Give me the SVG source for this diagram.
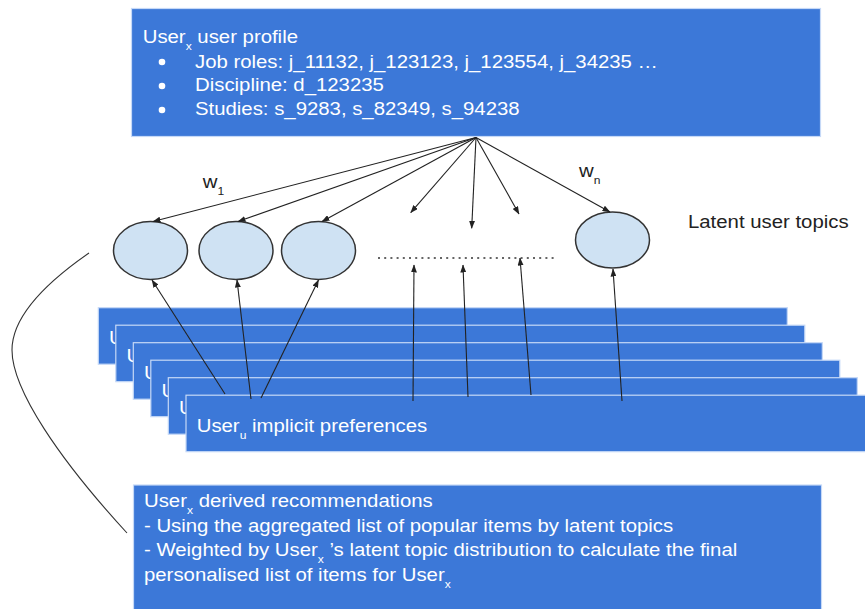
<svg xmlns="http://www.w3.org/2000/svg" width="865" height="609" viewBox="0 0 865 609">
  <style>
    .box { fill: #3c78d8; stroke: #c6d9f7; stroke-width: 1.2; }
    .topic { fill: #cfe2f3; stroke: #333333; stroke-width: 1.5; }
    .wt { font-family: "Liberation Sans", Arial, sans-serif; font-size: 18.5px; fill: #ffffff; }
    .bt { font-family: "Liberation Sans", Arial, sans-serif; font-size: 18.5px; fill: #222222; }
    .sub { font-size: 11px; }
    .edge { fill: none; stroke: #222222; stroke-width: 1.1; marker-end: url(#head); }
    .dots { fill: none; stroke: #333333; stroke-width: 1.6; stroke-dasharray: 2 4.2; }
    .brace { fill: none; stroke: #333333; stroke-width: 1.1; }
  </style>
  <defs>
    <marker id="head" markerUnits="userSpaceOnUse" markerWidth="8" markerHeight="6" refX="7.5" refY="3" orient="auto">
      <path d="M0,0 L8,3 L0,6 z" fill="#222222"/>
    </marker>
    <!-- visible strips of the cards behind the front card -->
    <clipPath id="strip1"><rect x="98" y="307" width="17.8" height="58"/></clipPath>
    <clipPath id="strip2"><rect x="115.5" y="325" width="17.8" height="58"/></clipPath>
    <clipPath id="strip3"><rect x="133" y="342" width="17.8" height="58"/></clipPath>
    <clipPath id="strip4"><rect x="150.5" y="360" width="17.8" height="58"/></clipPath>
    <clipPath id="strip5"><rect x="168" y="377" width="18" height="58"/></clipPath>
  </defs>

  <rect width="865" height="609" fill="#ffffff"/>

  <!-- profile box -->
  <g id="profile">
    <rect class="box" x="131.5" y="8.5" width="689" height="128"/>
    <text class="wt" transform="translate(142.7,43.3) scale(1.1,1)"><tspan>User</tspan><tspan class="sub" dy="7">x</tspan><tspan dy="-7"> user profile</tspan></text>
    <circle cx="162" cy="62" r="3.3" fill="#ffffff"/>
    <circle cx="162" cy="86" r="3.3" fill="#ffffff"/>
    <circle cx="162" cy="110" r="3.3" fill="#ffffff"/>
    <text class="wt" transform="translate(195,67.5) scale(1.1,1)">Job roles: j_11132, j_123123, j_123554, j_34235 …</text>
    <text class="wt" transform="translate(195,91.3) scale(1.1,1)">Discipline: d_123235</text>
    <text class="wt" transform="translate(195,115.2) scale(1.1,1)">Studies: s_9283, s_82349, s_94238</text>
  </g>

  <!-- latent topic nodes -->
  <g id="topic-1"><ellipse class="topic" cx="150.5" cy="250.5" rx="37" ry="29"/></g>
  <g id="topic-2"><ellipse class="topic" cx="236" cy="250.5" rx="37" ry="29"/></g>
  <g id="topic-3"><ellipse class="topic" cx="318.5" cy="250.5" rx="37" ry="29"/></g>
  <g id="topic-gap"><line class="dots" x1="378" y1="258" x2="556" y2="258"/></g>
  <g id="topic-n"><ellipse class="topic" cx="612.5" cy="240" rx="37" ry="28"/></g>

  <g id="labels">
    <text class="bt" transform="translate(202.7,188.3) scale(1.1,1)"><tspan>w</tspan><tspan class="sub" dy="7">1</tspan></text>
    <text class="bt" transform="translate(579,177) scale(1.1,1)"><tspan>w</tspan><tspan class="sub" dy="7">n</tspan></text>
    <text class="bt" transform="translate(688,227.7) scale(1.1,1)">Latent user topics</text>
  </g>

  <!-- stack of per-user implicit preference cards -->
  <g id="preferences">
    <rect class="box" x="98.3" y="307.7" width="689" height="56.5"/>
    <g clip-path="url(#strip1)"><text class="wt" transform="translate(109,344.4) scale(1.1,1)">U</text></g>
    <rect class="box" x="115.8" y="325.2" width="689" height="56.5"/>
    <g clip-path="url(#strip2)"><text class="wt" transform="translate(126.5,361.9) scale(1.1,1)">U</text></g>
    <rect class="box" x="133.3" y="342.7" width="689" height="56.5"/>
    <g clip-path="url(#strip3)"><text class="wt" transform="translate(144,379.4) scale(1.1,1)">U</text></g>
    <rect class="box" x="150.8" y="360.2" width="689" height="56.5"/>
    <g clip-path="url(#strip4)"><text class="wt" transform="translate(161.5,396.9) scale(1.1,1)">U</text></g>
    <rect class="box" x="168.3" y="377.7" width="689" height="56.5"/>
    <g clip-path="url(#strip5)"><text class="wt" transform="translate(179,414.4) scale(1.1,1)">U</text></g>
    <rect class="box" x="186" y="395.2" width="689" height="56.5"/>
    <text class="wt" transform="translate(196.7,431.7) scale(1.1,1)"><tspan>User</tspan><tspan class="sub" dy="7">u</tspan><tspan dy="-7"> implicit preferences</tspan></text>
  </g>

  <!-- connectors -->
  <g id="connectors">
    <line class="edge" x1="476" y1="137.5" x2="153" y2="221.5"/>
    <line class="edge" x1="476" y1="137.5" x2="238" y2="221.5"/>
    <line class="edge" x1="476" y1="137.5" x2="322" y2="221.5"/>
    <line class="edge" x1="476" y1="137.5" x2="410.7" y2="212.7"/>
    <line class="edge" x1="476" y1="137.5" x2="471.7" y2="228.3"/>
    <line class="edge" x1="476" y1="137.5" x2="519" y2="214"/>
    <line class="edge" x1="476" y1="137.5" x2="610" y2="212"/>

    <line class="edge" x1="225" y1="394" x2="152" y2="280"/>
    <line class="edge" x1="251" y1="399" x2="237" y2="280"/>
    <line class="edge" x1="261" y1="398" x2="318.5" y2="280"/>
    <line class="edge" x1="413" y1="401" x2="414" y2="265"/>
    <line class="edge" x1="468" y1="397" x2="463" y2="265"/>
    <line class="edge" x1="531" y1="395" x2="520" y2="258"/>
    <line class="edge" x1="622" y1="401" x2="613" y2="269"/>

    <path class="brace" d="M89,253 C50,280 12,315 12,350 C12,390 60,460 127,533"/>
  </g>

  <!-- recommendations box -->
  <g id="recommendations">
    <rect class="box" x="133.5" y="485" width="688" height="130"/>
    <text class="wt" transform="translate(144,507.3) scale(1.1,1)"><tspan>User</tspan><tspan class="sub" dy="7">x</tspan><tspan dy="-7"> derived recommendations</tspan></text>
    <text class="wt" transform="translate(144,531.6) scale(1.1,1)">- Using the aggregated list of popular items by latent topics</text>
    <text class="wt" transform="translate(144,556) scale(1.1,1)"><tspan>- Weighted by User</tspan><tspan class="sub" dy="7">x</tspan><tspan dy="-7"> ’s latent topic distribution to calculate the final</tspan></text>
    <text class="wt" transform="translate(144,580.5) scale(1.1,1)"><tspan>personalised list of items for User</tspan><tspan class="sub" dy="7">x</tspan></text>
  </g>
</svg>
